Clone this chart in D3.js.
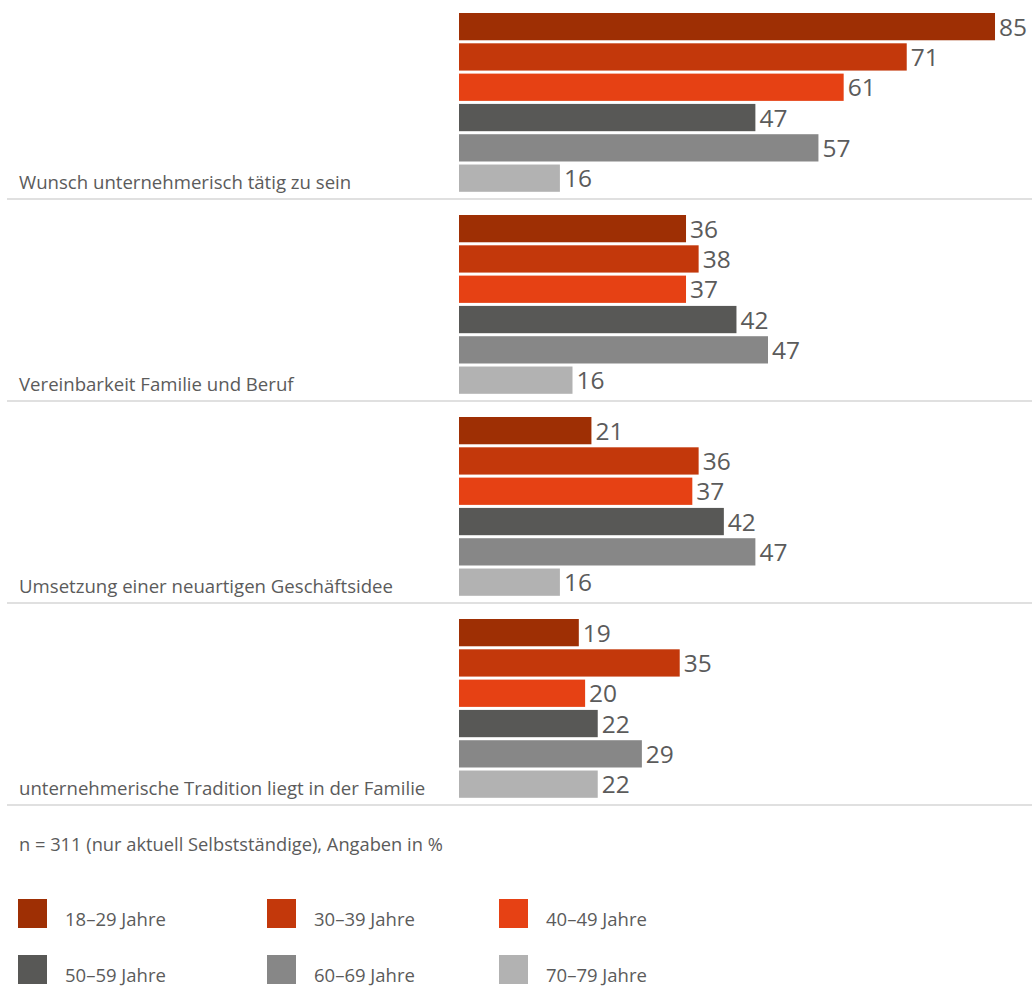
<!DOCTYPE html>
<html>
<head>
<meta charset="utf-8">
<script src="https://cdn.jsdelivr.net/npm/d3@7"></script>
<style>
  html, body { margin: 0; padding: 0; background: #fff; }
  svg { display: block; }
</style>
</head>
<body>
<div id="chart"></div>
<script>
const categories = [
  "Wunsch unternehmerisch tätig zu sein",
  "Vereinbarkeit Familie und Beruf",
  "Umsetzung einer neuartigen Geschäftsidee",
  "unternehmerische Tradition liegt in der Familie"
];
const seriesNames = ["18–29 Jahre", "30–39 Jahre", "40–49 Jahre", "50–59 Jahre", "60–69 Jahre", "70–79 Jahre"];
const seriesColors = ["#9e2f04", "#c3380b", "#e64114", "#585856", "#878787", "#b2b2b2"];
// printed values (labels)
const values18_29 = [85, 36, 21, 19];
const values30_39 = [71, 38, 36, 35];
const values40_49 = [61, 37, 37, 20];
const values50_59 = [47, 42, 42, 22];
const values60_69 = [57, 47, 47, 29];
const values70_79 = [16, 16, 16, 22];
const seriesLabels = [values18_29, values30_39, values40_49, values50_59, values60_69, values70_79];
// drawn bar lengths (a few differ from the printed numbers)
const bars18_29 = [85, 36, 21, 19];
const bars30_39 = [71, 38, 38, 35];
const bars40_49 = [61, 36, 37, 20];
const bars50_59 = [47, 44, 42, 22];
const bars60_69 = [57, 49, 47, 29];
const bars70_79 = [16, 18, 16, 22];
const seriesBars = [bars18_29, bars30_39, bars40_49, bars50_59, bars60_69, bars70_79];
const noteText = "n = 311 (nur aktuell Selbstständige), Angaben in %";

const W = 1032, H = 987;
const svg = d3.select("#chart").append("svg").attr("width", W).attr("height", H);

const labelFont = "'Open Sans', 'Noto Sans', sans-serif";
const valueFont = "'Open Sans', sans-serif";
const textColor = "#5b5b5b";

const yGroup = d3.scaleBand().domain(categories).range([-2, 806]).padding(0);
const ySeries = d3.scaleBand().domain(seriesNames).range([15, 15 + 6 * 29.8]).paddingInner(0.1).paddingOuter(0);
const x = d3.scaleLinear().domain([0, 100]).range([459, 459 + 630.6]);

const data = [];
categories.forEach((c, ci) => {
  seriesNames.forEach((s, si) => {
    data.push({cat: c, series: s, color: seriesColors[si], value: seriesBars[si][ci], label: seriesLabels[si][ci]});
  });
});

// separators
svg.append("g").selectAll("line").data(categories).join("line")
  .attr("x1", 7).attr("x2", W)
  .attr("y1", d => yGroup(d) + yGroup.bandwidth() - 1)
  .attr("y2", d => yGroup(d) + yGroup.bandwidth() - 1)
  .attr("stroke", "#d6d6d6").attr("stroke-width", 1.6);

// category labels
svg.append("g").selectAll("text").data(categories).join("text")
  .attr("x", 19)
  .attr("y", d => yGroup(d) + yGroup.bandwidth() - 11)
  .attr("font-family", labelFont).attr("font-size", 18.6)
  .attr("fill", textColor)
  .text(d => d);

// bars
svg.append("g").selectAll("rect").data(data).join("rect")
  .attr("x", x(0))
  .attr("y", d => yGroup(d.cat) + ySeries(d.series))
  .attr("width", d => x(d.value) - x(0))
  .attr("height", ySeries.bandwidth())
  .attr("fill", d => d.color);

// value labels
svg.append("g").selectAll("text").data(data).join("text")
  .attr("x", d => x(d.value) + 4)
  .attr("y", d => yGroup(d.cat) + ySeries(d.series) + ySeries.bandwidth() / 2 + 9)
  .attr("font-family", valueFont).attr("font-size", 24.5)
  .attr("fill", textColor)
  .text(d => d.label);

// note
svg.append("text")
  .attr("x", 19).attr("y", 851)
  .attr("font-family", labelFont).attr("font-size", 18.3)
  .attr("fill", textColor)
  .text(noteText);

// legend
const legCols = [18, 267, 499];
const legRows = [899, 955];
const legend = svg.append("g").selectAll("g").data(seriesNames).join("g")
  .attr("transform", (d, i) => `translate(${legCols[i % 3]},${legRows[Math.floor(i / 3)]})`);
legend.append("rect").attr("width", 29).attr("height", 29)
  .attr("fill", (d, i) => seriesColors[i]);
legend.append("text").attr("x", 47).attr("y", 27)
  .attr("font-family", labelFont).attr("font-size", 18.5)
  .attr("fill", textColor)
  .text(d => d);
</script>
</body>
</html>
